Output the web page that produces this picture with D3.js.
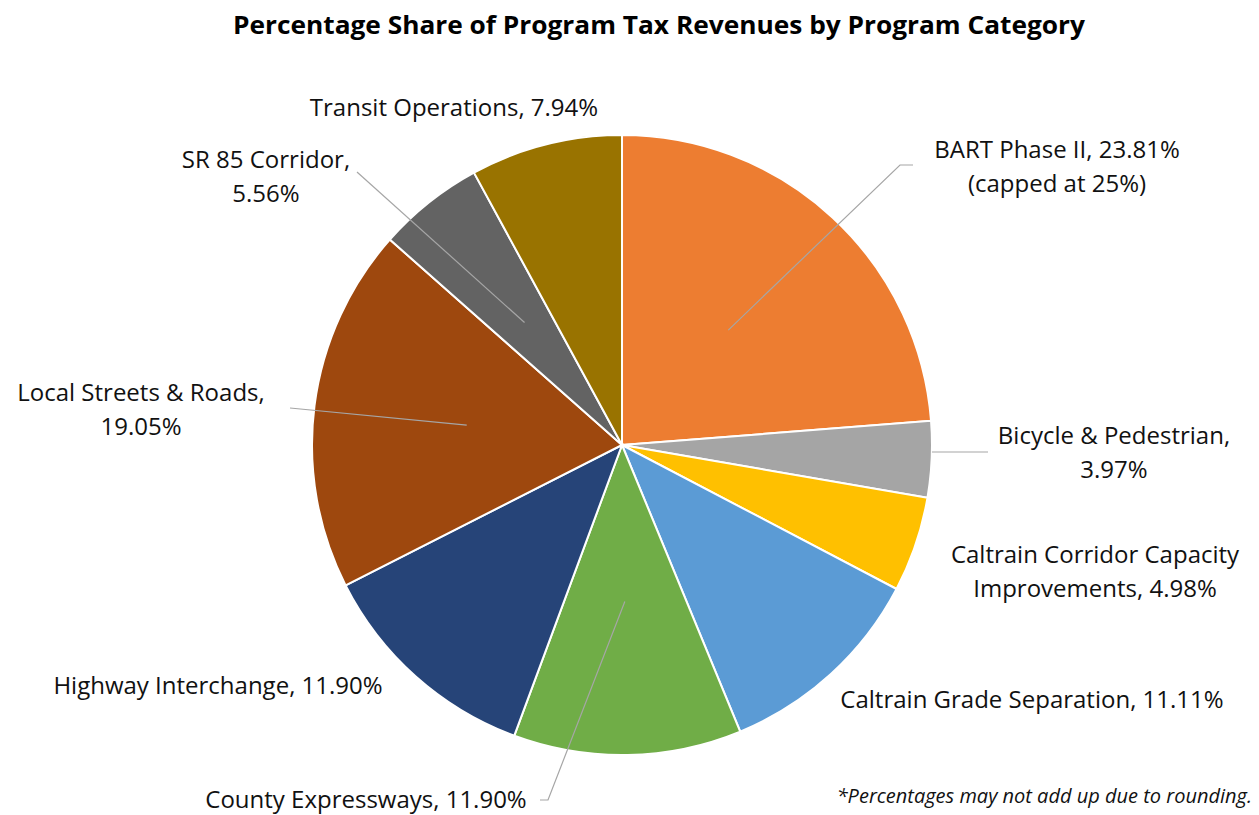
<!DOCTYPE html>
<html>
<head>
<meta charset="utf-8">
<script src="https://cdn.jsdelivr.net/npm/d3@7"></script>
<style>
  body { margin: 0; background: #fff; }
  svg { font-family: "Open Sans", "Noto Sans", sans-serif; }
</style>
</head>
<body>
<div class="chart"></div>
<script>
const categories = ['BART Phase II', 'Bicycle & Pedestrian', 'Caltrain Corridor Capacity Improvements',
  'Caltrain Grade Separation', 'County Expressways', 'Highway Interchange',
  'Local Streets & Roads', 'SR 85 Corridor', 'Transit Operations'];
const shares = [23.81, 3.97, 4.98, 11.11, 11.90, 11.90, 19.05, 5.56, 7.94];
const labelLines = [
  ['BART Phase II, 23.81%', '(capped at 25%)'],
  ['Bicycle & Pedestrian,', '3.97%'],
  ['Caltrain Corridor Capacity', 'Improvements, 4.98%'],
  ['Caltrain Grade Separation, 11.11%'],
  ['County Expressways, 11.90%'],
  ['Highway Interchange, 11.90%'],
  ['Local Streets & Roads,', '19.05%'],
  ['SR 85 Corridor,', '5.56%'],
  ['Transit Operations, 7.94%']
];
const colors = ['#ED7D31', '#A5A5A5', '#FFC000', '#5B9BD5', '#70AD47', '#264478', '#9E480E', '#636363', '#997300'];

const width = 1259, height = 815;
const cx = 622, cy = 445, R = 310;

// label layout: centre x, first baseline y, leader elbow and end tick
const labelPos = [
  {x: 1057, y: 158, lead: [900, 165], tick: 913},
  {x: 1114, y: 444, lead: [988, 452], edge: true},
  {x: 1095, y: 563},
  {x: 1032, y: 708},
  {x: 366, y: 808, lead: [548, 800], tick: 540},
  {x: 218, y: 694},
  {x: 141, y: 401, lead: [290, 408]},
  {x: 266, y: 168, lead: [357, 172]},
  {x: 454, y: 116}
];

const svg = d3.select('.chart').append('svg')
  .attr('width', width)
  .attr('height', height);

svg.append('text')
  .attr('x', 659)
  .attr('y', 34)
  .attr('text-anchor', 'middle')
  .attr('font-weight', 'bold')
  .attr('font-size', 25)
  .attr('textLength', 852)
  .attr('lengthAdjust', 'spacingAndGlyphs')
  .text('Percentage Share of Program Tax Revenues by Program Category');

const pie = d3.pie().sort(null).value(d => d)(shares);
const arc = d3.arc().innerRadius(0).outerRadius(R);
const inner = d3.arc().innerRadius(R * 0.505).outerRadius(R * 0.505);

const g = svg.append('g').attr('transform', `translate(${cx},${cy})`);

g.selectAll('path')
  .data(pie)
  .enter()
  .append('path')
  .attr('d', arc)
  .attr('fill', (d, i) => colors[i])
  .attr('stroke', 'white')
  .attr('stroke-width', 2);

// leader lines
pie.forEach((d, i) => {
  const p = labelPos[i];
  if (!p.lead) return;
  let start;
  if (p.edge) {
    const dy = p.lead[1] - cy;
    start = [cx + Math.sqrt(R * R - dy * dy), p.lead[1]];
  } else {
    const c = inner.centroid(d);
    start = [cx + c[0], cy + c[1]];
  }
  const pts = [start, p.lead];
  if (p.tick) pts.push([p.tick, p.lead[1]]);
  svg.append('path')
    .attr('d', d3.line()(pts))
    .attr('fill', 'none')
    .attr('stroke', '#A6A6A6')
    .attr('stroke-width', 1.2);
});

// labels
labelLines.forEach((lines, i) => {
  const p = labelPos[i];
  const t = svg.append('text')
    .attr('text-anchor', 'middle')
    .attr('font-size', 24)
    .attr('fill', '#111');
  lines.forEach((s, j) => {
    t.append('tspan')
      .attr('x', p.x)
      .attr('y', p.y + j * 34)
      .text(s);
  });
});

svg.append('text')
  .attr('x', 1252)
  .attr('y', 803)
  .attr('text-anchor', 'end')
  .attr('font-style', 'italic')
  .attr('font-size', 20)
  .attr('fill', '#111')
  .text('*Percentages may not add up due to rounding.');
</script>
</body>
</html>
